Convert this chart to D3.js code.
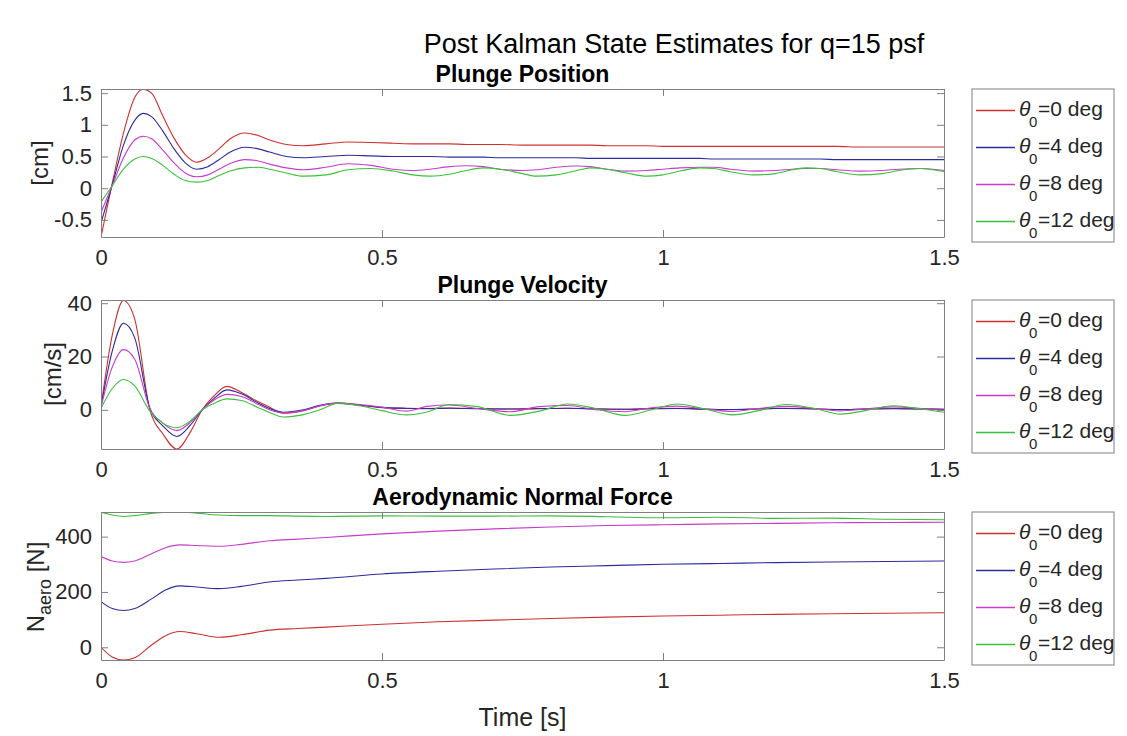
<!DOCTYPE html>
<html>
<head>
<meta charset="utf-8">
<script src="https://cdn.jsdelivr.net/npm/d3@7"></script>
<style>
  body { margin: 0; background: #fff; }
  text { font-family: "Liberation Sans", Arial, sans-serif; }
</style>
</head>
<body>
<script>
// ---- data ----
var seriesNames = ["0", "4", "8", "12"];
var seriesColors = ["#d03030", "#2c2ca0", "#c83ccc", "#3cc03c"];

var xTicks = [0, 0.5, 1, 1.5];
var posTicks = [-0.5, 0, 0.5, 1, 1.5];
var velTicks = [0, 20, 40];
var forceTicks = [0, 200, 400];

// plunge position [cm]
var tPos = [0, 0.02, 0.04, 0.06, 0.075, 0.09, 0.11, 0.13, 0.15, 0.17, 0.19, 0.21, 0.23, 0.256, 0.28, 0.3, 0.33, 0.36, 0.4, 0.44, 0.48, 0.52, 0.555, 0.585, 0.62, 0.65, 0.68, 0.71, 0.75, 0.775, 0.81, 0.847, 0.87, 0.9, 0.935, 0.971, 1.0, 1.03, 1.066, 1.09, 1.12, 1.16, 1.2, 1.23, 1.256, 1.28, 1.31, 1.35, 1.39, 1.42, 1.458, 1.48, 1.5];
var posRed = [-0.77, 0.08, 0.87, 1.43, 1.56, 1.5, 1.14, 0.79, 0.53, 0.41, 0.48, 0.62, 0.78, 0.87, 0.83, 0.76, 0.69, 0.67, 0.70, 0.73, 0.72, 0.71, 0.70, 0.70, 0.70, 0.69, 0.69, 0.69, 0.68, 0.68, 0.68, 0.68, 0.68, 0.67, 0.67, 0.67, 0.66, 0.66, 0.66, 0.66, 0.66, 0.66, 0.66, 0.66, 0.66, 0.66, 0.66, 0.65, 0.65, 0.65, 0.65, 0.65, 0.65];
var posBlue = [-0.55, 0.05, 0.68, 1.07, 1.18, 1.13, 0.90, 0.62, 0.40, 0.30, 0.34, 0.45, 0.57, 0.645, 0.62, 0.57, 0.50, 0.48, 0.50, 0.52, 0.51, 0.50, 0.50, 0.50, 0.49, 0.49, 0.49, 0.48, 0.48, 0.48, 0.48, 0.48, 0.47, 0.47, 0.47, 0.47, 0.47, 0.47, 0.47, 0.46, 0.46, 0.46, 0.46, 0.46, 0.46, 0.46, 0.45, 0.45, 0.45, 0.45, 0.45, 0.45, 0.45];
var posMag = [-0.38, 0.04, 0.48, 0.76, 0.82, 0.78, 0.60, 0.40, 0.24, 0.18, 0.21, 0.30, 0.39, 0.45, 0.43, 0.38, 0.32, 0.29, 0.33, 0.385, 0.36, 0.30, 0.28, 0.30, 0.34, 0.355, 0.34, 0.30, 0.28, 0.29, 0.33, 0.35, 0.34, 0.30, 0.27, 0.28, 0.30, 0.32, 0.33, 0.33, 0.30, 0.27, 0.28, 0.30, 0.31, 0.31, 0.29, 0.27, 0.28, 0.30, 0.31, 0.30, 0.28];
var posGreen = [-0.22, 0.04, 0.30, 0.46, 0.50, 0.47, 0.36, 0.22, 0.12, 0.095, 0.12, 0.20, 0.27, 0.32, 0.33, 0.30, 0.24, 0.19, 0.21, 0.29, 0.31, 0.27, 0.21, 0.19, 0.22, 0.28, 0.32, 0.30, 0.23, 0.19, 0.21, 0.28, 0.32, 0.30, 0.24, 0.19, 0.21, 0.27, 0.32, 0.31, 0.26, 0.21, 0.23, 0.29, 0.32, 0.31, 0.26, 0.21, 0.23, 0.28, 0.31, 0.29, 0.26];

// plunge velocity [cm/s]
var tVel = [0, 0.02, 0.04, 0.06, 0.087, 0.11, 0.135, 0.16, 0.18, 0.2, 0.224, 0.25, 0.28, 0.3, 0.324, 0.36, 0.39, 0.42, 0.46, 0.5, 0.544, 0.58, 0.62, 0.67, 0.728, 0.78, 0.83, 0.88, 0.932, 0.98, 1.025, 1.075, 1.124, 1.17, 1.22, 1.27, 1.315, 1.36, 1.41, 1.46, 1.5];
var velRed = [1, 28, 41, 34, 0, -9, -14.7, -8, 0, 5, 8.8, 6.5, 3, 1, -1.3, -0.3, 1.5, 2.5, 1.8, 0.8, 0.5, 0.4, 0.7, 0.5, 0.3, 0.4, 0.6, 0.4, 0.2, 0.5, 0.6, 0.3, 0.1, 0.3, 0.6, 0.4, 0.1, 0.3, 0.5, 0.3, 0.2];
var velBlue = [1, 22, 32.5, 27, 0.5, -6, -10, -5.5, 0, 4, 7.5, 6, 2.5, 0.5, -0.9, 0, 1.7, 2.5, 1.8, 0.9, 0.6, 0.5, 0.6, 0.4, 0.3, 0.5, 0.6, 0.3, 0.2, 0.4, 0.5, 0.2, 0.1, 0.4, 0.5, 0.3, 0.1, 0.3, 0.4, 0.3, 0.2];
var velMag = [1, 16, 22.6, 19, 0.5, -5, -7.8, -4.5, 0, 3.5, 5.8, 5, 2, 0, -1.2, -0.3, 1.5, 2.5, 2, 1, -0.5, 1.3, 1.8, 0.5, -0.7, 1.2, 1.6, 0, -0.7, 0.8, 1.4, 0.3, -0.6, 0.5, 1.3, 0.5, -0.4, 0.3, 1.1, 0.5, -0.2];
var velGreen = [0.5, 8, 11.4, 9, -0.5, -5, -6.7, -4, 0, 2.3, 4.1, 3.5, 0.8, -1, -2.7, -1.8, 0, 2.4, 1.5, -0.3, -1.9, -0.8, 2.0, 1.2, -2.1, -0.5, 2.2, 0.5, -2.1, 0, 2.2, 0.3, -1.9, -0.3, 2.0, 0.5, -1.6, -0.3, 1.5, 0.3, -0.9];

// aerodynamic normal force [N]
var tForce = [0, 0.02, 0.04, 0.06, 0.09, 0.115, 0.14, 0.17, 0.21, 0.25, 0.3, 0.35, 0.4, 0.5, 0.6, 0.7, 0.8, 0.9, 1.0, 1.1, 1.2, 1.3, 1.4, 1.5];
var forceRed = [0, -35, -46, -38, 8, 42, 57, 49, 36, 45, 62, 68, 73, 83, 92, 98, 104, 109, 113, 116, 119, 121, 123, 125];
var forceBlue = [165, 140, 133, 140, 175, 207, 222, 218, 212, 220, 236, 243, 249, 265, 275, 283, 290, 295, 300, 303, 306, 308, 310, 312];
var forceMag = [328, 312, 307, 312, 338, 360, 370, 368, 365, 372, 385, 391, 397, 410, 420, 428, 435, 440, 443, 446, 448, 450, 451, 452];
var forceGreen = [488, 478, 473, 476, 484, 488, 489, 485, 478, 476, 476, 474, 473, 475, 474, 474, 475, 472, 468, 470, 466, 467, 463, 461];

// ---- layout ----
var W = 1127, H = 736;
var left = 101, right = 944;

var svg = d3.select("body").append("svg")
    .attr("width", W)
    .attr("height", H);

svg.append("rect")
    .attr("width", W)
    .attr("height", H)
    .attr("fill", "#ffffff");

var x = d3.scaleLinear().domain([0, 1.5]).range([left, right]);

var panels = [
  {title: "Plunge Position", top: 89, bottom: 237, domain: [-0.77, 1.565], ticks: posTicks,
   t: tPos, series: [posRed, posBlue, posMag, posGreen], ylabel: "[cm]", ylx: 48, yly: 163},
  {title: "Plunge Velocity", top: 300, bottom: 449, domain: [-14.7, 41.2], ticks: velTicks,
   t: tVel, series: [velRed, velBlue, velMag, velGreen], ylabel: "[cm/s]", ylx: 61, yly: 374},
  {title: "Aerodynamic Normal Force", top: 512, bottom: 660, domain: [-46, 489], ticks: forceTicks,
   t: tForce, series: [forceRed, forceBlue, forceMag, forceGreen], ylabel: "N", ylx: 44, yly: 587}
];

svg.append("text")
    .attr("x", 674)
    .attr("y", 53)
    .attr("text-anchor", "middle")
    .attr("font-size", "27px")
    .attr("fill", "#000")
    .text("Post Kalman State Estimates for q=15 psf");

panels.forEach(function(p, i) {
  var y = d3.scaleLinear().domain(p.domain).range([p.bottom, p.top]);
  var g = svg.append("g");

  g.append("clipPath").attr("id", "clip" + i)
    .append("rect")
      .attr("x", left).attr("y", p.top)
      .attr("width", right - left).attr("height", p.bottom - p.top);

  // curves
  var line = d3.line()
      .x(function(d) { return x(d[0]); })
      .y(function(d) { return y(d[1]); })
      .curve(d3.curveMonotoneX);

  p.series.forEach(function(vals, k) {
    g.append("path")
      .datum(p.t.map(function(t, j) { return [t, vals[j]]; }))
      .attr("clip-path", "url(#clip" + i + ")")
      .attr("fill", "none")
      .attr("stroke", seriesColors[k])
      .attr("stroke-width", 1.1)
      .attr("d", line);
  });

  // axes, ticks inside on all four sides
  var fmt = function(d) { return String(d); };
  var ax = [
    g.append("g").attr("transform", "translate(0," + p.bottom + ")")
      .call(d3.axisBottom(x).tickValues(xTicks).tickSize(-7).tickSizeOuter(0).tickPadding(12).tickFormat(fmt)),
    g.append("g").attr("transform", "translate(0," + p.top + ")")
      .call(d3.axisTop(x).tickValues(xTicks).tickSize(-7).tickSizeOuter(0).tickFormat("")),
    g.append("g").attr("transform", "translate(" + left + ",0)")
      .call(d3.axisLeft(y).tickValues(p.ticks).tickSize(-7).tickSizeOuter(0).tickPadding(9).tickFormat(fmt)),
    g.append("g").attr("transform", "translate(" + right + ",0)")
      .call(d3.axisRight(y).tickValues(p.ticks).tickSize(-7).tickSizeOuter(0).tickFormat(""))
  ];
  ax.forEach(function(a) {
    a.select(".domain").attr("stroke", "#808080");
    a.selectAll(".tick line").attr("stroke", "#808080");
    a.selectAll(".tick text")
      .attr("font-family", "Liberation Sans, Arial, sans-serif")
      .attr("font-size", "22px")
      .attr("fill", "#262626");
  });

  // subplot title
  g.append("text")
    .attr("x", (left + right) / 2)
    .attr("y", p.top - 7)
    .attr("text-anchor", "middle")
    .attr("font-size", "23px")
    .attr("font-weight", "bold")
    .attr("fill", "#000")
    .text(p.title);

  // y label
  var yl = g.append("text")
    .attr("transform", "translate(" + p.ylx + "," + p.yly + ") rotate(-90)")
    .attr("text-anchor", "middle")
    .attr("font-size", "24px")
    .attr("fill", "#262626");
  if (i === 2) {
    yl.append("tspan").text("N");
    yl.append("tspan").attr("font-size", "18px").attr("dy", 7).text("aero");
    yl.append("tspan").attr("dy", -7).text(" [N]");
  } else {
    yl.text(p.ylabel);
  }

  // legend
  var lx = 972, lw = 142, lh = 153;
  var leg = g.append("g").attr("transform", "translate(" + lx + "," + p.top + ")");
  leg.append("rect")
    .attr("width", lw).attr("height", lh)
    .attr("fill", "#fff").attr("stroke", "#808080");
  seriesNames.forEach(function(name, k) {
    var ly = Math.round(21 + k * 37) + 0.5;
    leg.append("line")
      .attr("x1", 4).attr("x2", 43)
      .attr("y1", ly).attr("y2", ly)
      .attr("stroke", seriesColors[k])
      .attr("stroke-width", 1.5);
    leg.append("text")
      .attr("x", 47).attr("y", ly + 5)
      .attr("font-size", "21px")
      .attr("font-style", "italic")
      .attr("fill", "#262626")
      .text("\u03b8");
    leg.append("text")
      .attr("x", 57).attr("y", ly + 16)
      .attr("font-size", "15px")
      .attr("fill", "#262626")
      .text("0");
    leg.append("text")
      .attr("x", 66).attr("y", ly + 5)
      .attr("font-size", "21px")
      .attr("fill", "#262626")
      .text("=" + name + " deg");
  });
});

svg.append("text")
    .attr("x", (left + right) / 2)
    .attr("y", 726)
    .attr("text-anchor", "middle")
    .attr("font-size", "25px")
    .attr("fill", "#262626")
    .text("Time [s]");
</script>
</body>
</html>
